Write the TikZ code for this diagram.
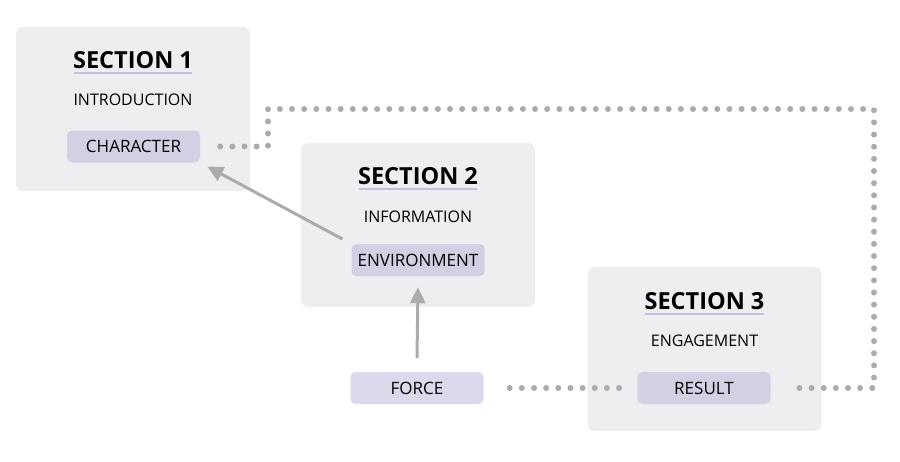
\documentclass[tikz,border=0pt]{standalone}
\usepackage{fontspec}
\setmainfont{Open Sans}
\usetikzlibrary{arrows.meta,calc}
\definecolor{boxfill}{HTML}{EEEEF0}
\definecolor{tagfill}{HTML}{D4CFE3}
\definecolor{forcefill}{HTML}{DDD8EC}
\definecolor{uline}{HTML}{C6BEDF}
\definecolor{conn}{HTML}{ABABAB}
\begin{document}
\begin{tikzpicture}[x=1pt,y=-1pt,
 section/.style={fill=boxfill, rounded corners=7pt, minimum width=234pt, minimum height=164pt, inner sep=0pt},
 tag/.style={fill=tagfill, rounded corners=5pt, minimum width=133pt, minimum height=32pt, inner sep=0pt, font=\fontsize{17}{20}\selectfont},
 title/.style={font=\fontsize{23.5}{28}\selectfont\bfseries, anchor=base, inner sep=0pt},
 sub/.style={font=\fontsize{16}{19}\selectfont, anchor=base, inner sep=0pt},
 uln/.style={draw=uline, line width=2pt},
 dots/.style={draw=conn, line width=6pt, line cap=round, dash pattern=on 0pt off 12.15pt},
 arr/.style={draw=conn, line width=3pt, -{Triangle[length=16pt,width=15pt]}}
]
\useasboundingbox (0,0) rectangle (900,461);
% sections
\node[section] (s1) at (133,109) {};
\node[section] (s2) at (418,225) {};
\node[section] (s3) at (704.5,349) {};
% titles
\node[title] (t1) at (133,68) {SECTION 1};
\node[title] (t2) at (418,184) {SECTION 2};
\node[title] (t3) at (704.5,309) {SECTION 3};
\draw[uln] ($(t1.base west)+(1,5)$) -- ($(t1.base east)+(-1,5)$);
\draw[uln] ($(t2.base west)+(1,5)$) -- ($(t2.base east)+(-1,5)$);
\draw[uln] ($(t3.base west)+(1,5)$) -- ($(t3.base east)+(-1,5)$);
% subtitles
\node[sub] (u1) at (133,105) {INTRODUCTION};
\node[sub] (u2) at (418,222) {INFORMATION};
\node[sub] (u3) at (704.5,346) {ENGAGEMENT};
% tags
\node[tag] (char) at (133.5,146.5) {CHARACTER};
\node[tag] (env) at (418,260) {ENVIRONMENT};
\node[tag] (result) at (704,388) {RESULT};
\node[tag, fill=forcefill] (force) at (417,388) {FORCE};
% connectors
\coordinate (d1) at (268,109);
\coordinate (d2) at (874,109);
\draw[dots] ($(char.east)+(20,0)$) -| (d1) -- (d2) |- ($(result.east)+(18,0)$);
\draw[dots] ($(force.east)+(26,0)$) -- ($(result.west)+(-18,0)$);
\draw[arr, shorten <=10pt, shorten >=8pt] (env.north west) -- (char.south east);
\draw[arr] ($(force.north)+(0,-14)$) -- ($(env.south)+(0,11)$);
\end{tikzpicture}
\end{document}
